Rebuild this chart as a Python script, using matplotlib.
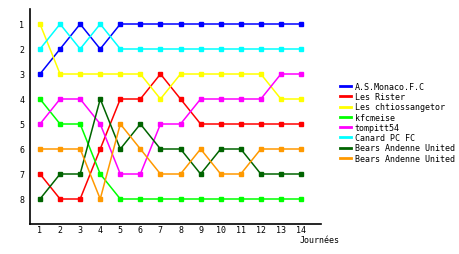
import matplotlib
matplotlib.use("Agg")
import matplotlib.pyplot as plt

plt.rcParams['font.family'] = ['DejaVu Sans Mono']

days = list(range(1, 15))
teams = ["A.S.Monaco.F.C", "Les Rister", "Les chtiossangetor", "kfcmeise",
         "tompitt54", "Canard PC FC", "Bears Andenne United", "Bears Andenne United"]
colors = ["#0000ff", "#ff0000", "#ffff00", "#00ff00",
          "#ff00ff", "#00ffff", "#006400", "#ff9900"]

monaco = [3, 2, 1, 2, 1, 1, 1, 1, 1, 1, 1, 1, 1, 1]
rister = [7, 8, 8, 6, 4, 4, 3, 4, 5, 5, 5, 5, 5, 5]
chtios = [1, 3, 3, 3, 3, 3, 4, 3, 3, 3, 3, 3, 4, 4]
kfcmeise = [4, 5, 5, 7, 8, 8, 8, 8, 8, 8, 8, 8, 8, 8]
tompitt = [5, 4, 4, 5, 7, 7, 5, 5, 4, 4, 4, 4, 3, 3]
canard = [2, 1, 2, 1, 2, 2, 2, 2, 2, 2, 2, 2, 2, 2]
bears1 = [8, 7, 7, 4, 6, 5, 6, 6, 7, 6, 6, 7, 7, 7]
bears2 = [6, 6, 6, 8, 5, 6, 7, 7, 6, 7, 7, 6, 6, 6]
series = [monaco, rister, chtios, kfcmeise, tompitt, canard, bears1, bears2]

fig = plt.figure(figsize=(4.6, 2.55), dpi=100)
ax = fig.add_axes([30/460, 1 - 225/255, 291/460, 215/255])

for name, vals, c in zip(teams, series, colors):
    ax.plot(days, vals, color=c, lw=1.1, marker='s', ms=2.5, label=name)

ax.set_xlim(0.502, 14.996)
ax.set_ylim(9, 0.4)
ax.set_xticks(days)
ax.set_yticks(range(1, 9))
ax.tick_params(length=0, labelsize=6)
ax.tick_params(axis='x', pad=1)
ax.tick_params(axis='y', pad=4)
for s in ['top', 'right']:
    ax.spines[s].set_visible(False)
for s in ['left', 'bottom']:
    ax.spines[s].set_linewidth(1.2)

fig.text(300/460, 1 - 241/255, "Journées", fontsize=6, va='center', ha='left')

handles = [plt.Line2D([], [], color=c, lw=2) for c in colors]
fig.legend(handles, teams, loc='upper left', bbox_to_anchor=(340/460, 1 - 83/255),
           frameon=False, fontsize=6, handlelength=1.3, handletextpad=0.45,
           labelspacing=0.15, borderpad=0, borderaxespad=0)

fig.savefig("out.png", dpi=100)
